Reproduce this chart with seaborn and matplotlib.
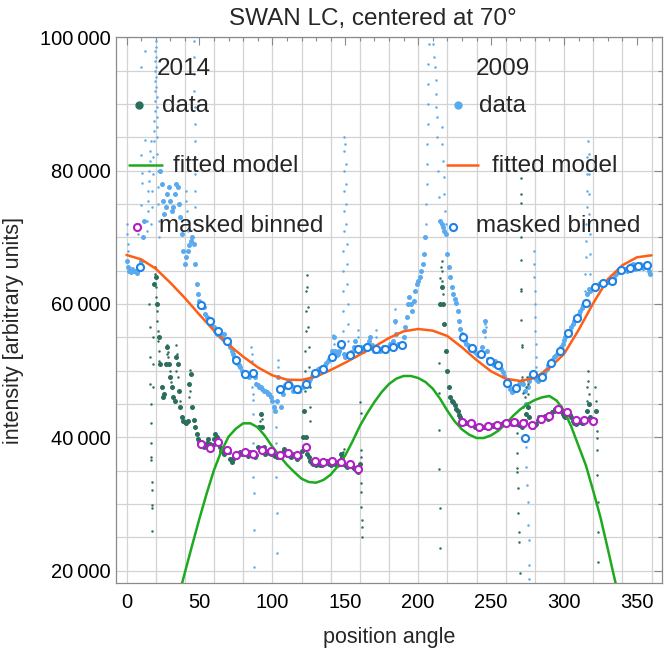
import numpy as np
import pandas as pd
import matplotlib
matplotlib.use("Agg")
import matplotlib.pyplot as plt
from matplotlib.ticker import MultipleLocator, FuncFormatter
from matplotlib.lines import Line2D
import seaborn as sns

nan = np.nan

# ---------------- 2009 data, one value per degree, in thousands (nan = only spike dots there)
deg09 = list(range(0, 360))
int09 = [
    66.5, 65.5, 65.0, 64.8, 65.2, 64.9, 65.0, 64.7, 65.1, 65.4,
    66.5, 70.0, 72.5, nan, nan, nan, nan, nan, nan, nan,
    nan, nan, nan, 80.0, 78.0, 75.5, 73.5, 74.5, 76.5, 77.5,
    75.5, 74.0, 74.5, 76.5, 78.0, 77.5, 75.0, 73.0, 70.5, 68.0,
    66.0, 67.0, 68.0, 68.8, 69.5, 70.0, 69.0, 66.0, 63.0, 61.5,
    60.5, 60.0, 59.5, 59.5, 58.5, 58.0, 57.5, 57.3, 57.0, 56.5,
    56.5, 56.0, 55.5, 55.8, 55.2, 55.0, 54.8, 55.5, 54.5, 54.2,
    54.0, 53.5, 53.0, 52.5, 52.0, 51.6, 51.2, 50.8, 50.5, 50.0,
    49.6, 49.4, 49.3, 49.2, 49.0, 49.5, 49.8, 49.5, 49.0, 48.0,
    47.8, 47.5, 47.5, 47.3, 47.0, 47.0, 46.8, 46.5, 46.5, 46.0,
    45.5, 44.5, 44.0, 45.5, 49.0, 47.0, 44.5, 46.5, 47.5, 47.8,
    47.8, 47.5, 48.2, 47.8, 47.0, 47.6, 47.2, 47.3, 47.0, 47.4,
    47.6, 47.5, 47.8, 48.0, 48.2, 48.5, 48.8, 49.2, 49.5, 49.6,
    50.0, 50.2, 50.3, 50.4, 50.5, 50.4, 50.8, 51.2, 51.5, 51.8,
    52.0, 53.0, 55.0, 53.0, 52.3, 52.5, 53.0, 54.0, 53.5, 52.5,
    52.0, 52.2, 52.5, 52.3, 52.8, 53.0, 53.5, 54.5, 53.5, 53.2,
    53.3, 53.5, 53.0, 53.5, 53.7, 53.6, 54.5, 55.0, 53.8, 53.2,
    53.0, 53.2, 53.4, 53.3, 53.0, 53.3, 53.5, 53.3, 53.0, 53.4,
    53.6, 54.0, 53.8, 54.5, 57.5, 55.5, 54.0, 53.8, 54.0, 54.0,
    55.0, 56.5, 58.0, 60.0, 61.0, 60.0, 59.0, 60.5, 62.0, 63.0,
    63.5, 64.0, 65.0, 66.0, 67.5, 70.0, nan, nan, nan, nan,
    nan, nan, nan, nan, nan, 72.5, 72.0, 71.5, 71.0, 70.5,
    67.5, 65.5, 64.0, 62.5, 61.5, 60.8, 60.2, 59.0, 57.5, 56.3,
    55.5, 55.0, 54.5, 54.0, 53.8, 53.5, 53.2, 53.4, 53.0, 52.8,
    52.5, 52.3, 52.4, 52.5, 53.5, 56.0, 57.5, 53.0, 51.8, 51.5,
    51.2, 51.0, 50.9, 51.5, 51.0, 50.8, 50.5, 50.2, 49.8, 49.2,
    48.5, 48.2, 47.8, 47.2, 46.8, 47.0, 47.2, 47.5, 47.2, 48.0,
    48.3, 48.5, 48.0, 47.0, 45.0, 47.5, 48.5, 49.0, 49.3, 49.5,
    49.0, 48.8, 48.5, 48.7, 49.0, 49.1, 49.5, 50.0, 50.3, 50.8,
    51.0, 51.2, 51.6, 52.0, 52.2, 52.5, 52.8, 53.0, 53.5, 54.0,
    54.6, 55.0, 55.4, 55.6, 56.0, 56.5, 57.0, 57.4, 57.8, 58.0,
    58.5, 59.0, 59.4, 59.8, 60.0, 60.3, 61.5, 62.3, 62.0, 62.2,
    62.4, 62.5, 62.7, 62.9, 63.0, 63.0, 63.1, 63.1, 63.2, 63.3,
    63.3, 63.4, 63.5, 63.4, 63.8, 64.3, 64.7, 65.0, 65.1, 65.1,
    65.2, 65.3, 65.3, 65.0, 65.2, 65.3, 65.8, 66.0, 65.5, 65.3,
    65.7, 65.7, 66.0, 65.6, 65.4, 65.8, 65.9, 65.8, 65.0, 64.5,
]

# sparse spike dots of the 2009 curve
spk09_ang = [0.2, 0.5, 0.8, 1.2, 7.5, 8.2, 8.8,
             9.6, 10.0, 10.0, 10.3, 10.6, 13.0, 13.0,
             13.8, 14.1, 14.4, 14.7, 15.0, 15.3, 15.6, 15.9, 16.2, 16.5,
             16.8, 17.2, 17.6, 18.0, 18.4, 18.8,
             19.0, 19.1, 19.2, 19.3, 19.4, 19.5, 19.6, 19.7, 19.8, 19.9,
             20.1, 20.2, 20.3, 20.4, 20.5, 20.6, 20.7, 20.8, 20.9, 21.0,
             21.2, 21.4, 21.6, 21.8, 22.0, 22.3,
             40.5, 41.0, 41.5, 42.0, 42.5,
             46.3, 46.4, 46.5, 46.6, 46.7, 46.8, 46.9, 47.0, 47.1, 47.2, 47.3, 47.4,
             85.6, 85.8, 86.0, 86.2, 86.4, 86.6, 86.8, 86.9, 87.0, 87.1, 87.2, 87.3,
             102.6, 102.7, 102.8, 102.9, 103.0, 103.8, 104.2,
             141.5, 142.5,
             148.3, 148.4, 148.5, 148.6, 148.7, 148.8, 148.9, 149.0, 149.1, 149.2, 149.3,
             150.0, 150.2, 150.4, 150.6, 150.8, 151.0, 151.2, 151.4, 151.6, 151.8, 152.0,
             158.8, 158.9, 171.1, 171.2, 183.8, 184.2,
             205.2, 205.5, 205.8, 206.0, 206.2, 206.4, 206.6, 206.8, 207.0, 207.2,
             210.5, 211.0, 211.5, 212.0, 212.2, 212.5, 212.7, 213.2, 213.8, 214.3,
             216.0, 216.5, 217.0, 217.5, 218.0, 218.5, 219.0,
             245.5, 245.8, 246.3,
             273.2, 273.5, 273.8, 274.2, 274.6, 275.0, 275.4, 275.7, 276.0, 276.3,
             279.2, 279.4, 279.6, 279.8, 280.0, 280.2, 280.4, 280.6, 280.8, 281.0,
             314.5, 314.7, 314.9, 315.1, 315.3, 315.5, 315.7, 315.9, 316.1, 316.3,
             316.8, 317.0, 317.2, 317.4, 317.6, 317.8, 318.0]
spk09_val = [72.0, 70.5, 69.0, 68.0, 71.5, 70.5, 72.0,
             74.8, 82.3, 95.5, 79.6, 78.1, 98.0, 84.6,
             71.0, 72.5, 74.0, 75.5, 77.0, 78.5, 80.0, 81.5, 83.0, 84.5,
             72.0, 74.5, 77.0, 79.5, 82.0, 84.5,
             86.0, 87.5, 89.0, 90.5, 92.0, 93.5, 95.0, 96.5, 98.0, 99.5,
             98.5, 97.0, 95.5, 94.0, 92.5, 91.0, 89.5, 88.0, 86.5, 85.0,
             82.5, 80.0, 77.5, 75.0, 72.5, 70.0,
             77.0, 75.5, 74.0, 72.5, 71.0,
             99.5, 97.0, 94.5, 92.0, 89.5, 87.0, 84.5, 82.0, 79.5, 77.0, 74.5, 72.0,
             53.5, 52.5, 51.5, 47.5, 46.5, 45.6, 43.5, 39.1, 34.1, 31.6, 26.1, 20.6,
             41.5, 39.1, 34.1, 28.6, 22.7, 51.6, 50.5,
             55.3, 54.0,
             56.0, 59.0, 62.0, 65.0, 68.0, 71.0, 74.0, 77.0, 80.0, 83.0, 85.0,
             84.0, 81.0, 78.0, 75.0, 72.0, 69.0, 66.0, 63.0, 60.0, 57.0, 54.5,
             56.1, 55.0, 56.1, 55.0, 59.3, 57.2,
             72.0, 75.0, 78.0, 81.0, 84.0, 87.0, 90.0, 93.0, 96.0, 99.0,
             99.0, 97.0, 95.6, 93.6, 91.5, 89.5, 88.0, 85.0, 80.0, 76.0,
             86.5, 84.0, 81.5, 79.0, 76.5, 74.0, 72.0,
             57.0, 55.0, 56.5,
             45.0, 42.0, 38.6, 35.6, 32.8, 30.3, 26.8, 24.6, 20.8, 18.8,
             68.0, 66.0, 64.0, 62.0, 60.0, 58.0, 56.0, 54.0, 52.0, 50.5,
             62.0, 64.5, 67.0, 69.5, 72.0, 74.5, 77.0, 79.5, 82.0, 84.5,
             82.5, 79.5, 76.5, 73.5, 70.5, 67.5, 64.5]

# ---------------- 2014 data, one value per degree (thousands)
deg14a = list(range(19, 161))
int14a = [
    63.0, 64.0, 60.0, 55.0, 51.0, 47.5, 46.0, 46.5, 51.0, 53.5,
    51.0, 49.0, 47.5, 46.0, 45.5, 52.0, 51.0, 47.0, 44.5, 43.0,
    42.5, 42.3, 42.2, 42.5, 48.0, 49.5, 44.5, 42.6, 41.5, 40.5,
    39.8, 39.3, 39.0, 38.8, 38.6, 38.7, 39.2, 39.8, 39.0, 38.3,
    38.8, 39.8, 40.5, 40.0, 39.3, 38.5, 38.0, 37.9, 37.5, 38.0,
    38.2, 37.8, 36.8, 36.3, 36.8, 37.2, 37.0, 37.3, 37.6, 37.8,
    37.5, 37.7, 37.8, 37.5, 37.2, 37.6, 37.8, 37.5, 37.3, 37.0,
    37.4, 38.5, 41.5, 43.5, 41.5, 38.5, 37.5, 37.8, 37.9, 37.6,
    37.5, 37.8, 37.4, 37.2, 37.0, 37.4, 37.5, 37.2, 37.8, 38.2,
    37.5, 37.4, 37.6, 37.2, 37.0, 37.4, 37.5, 37.0, 36.8, 37.0,
    37.2, 38.0, 40.0, 44.0, 40.0, 37.5, 37.0, 36.5, 36.2, 36.0,
    36.0, 35.8, 36.0, 36.2, 35.9, 35.8, 36.0, 36.2, 36.4, 36.5,
    36.0, 35.9, 36.0, 36.2, 36.0, 35.8, 36.0, 36.5, 37.5, 37.0,
    36.0, 35.8, 35.6, 35.8, 35.9, 35.7, 35.5, 35.4, 35.2, 35.0,
    34.8, 36.0,
]
deg14b = list(range(215, 323))
int14b = [
    60.0, 62.5, 60.0, 57.0, 53.0, 50.0, 47.5, 46.0, 45.5, 45.3,
    44.8, 44.3, 43.9, 43.4, 43.0, 42.6, 42.4, 42.3, 42.2, 42.2,
    42.1, 42.2, 42.0, 41.8, 41.6, 41.5, 41.4, 41.5, 41.7, 41.6,
    41.5, 41.6, 41.8, 41.7, 41.8, 41.9, 41.7, 41.8, 42.0, 41.9,
    41.8, 41.9, 42.0, 42.2, 42.3, 42.0, 42.1, 42.4, 42.2, 42.0,
    42.3, 42.5, 42.4, 42.0, 41.8, 42.0, 41.5, 41.8, 42.5, 43.5,
    44.5, 43.0, 42.0, 41.8, 41.6, 41.8, 42.0, 42.6, 43.0, 42.5,
    42.8, 43.0, 43.2, 43.0, 42.8, 43.2, 43.5, 43.8, 44.0, 44.2,
    44.4, 44.2, 44.5, 44.0, 43.5, 43.2, 43.0, 43.5, 43.8, 43.4,
    43.0, 42.5, 42.2, 42.0, 42.2, 42.4, 42.3, 42.1, 42.2, 42.5,
    42.8, 44.0, 45.0, 43.0, 42.5, 42.3, 42.6, 44.0,
]
spk14_ang = [15.5, 16.0, 16.2, 16.4, 16.5, 16.6, 16.8, 16.9, 17.0, 17.2, 17.3, 17.5, 17.6, 17.8,
             19.5, 19.8, 20.2, 20.5, 20.8, 21.2, 21.5, 21.8, 22.2, 22.5, 18.5, 18.2, 18.0,
             27.5, 27.8, 28.3, 28.7, 29.5, 30.5, 33.8, 34.2, 34.5, 35.5, 36.5,
             42.8, 43.2, 43.5, 43.8, 91.5, 92.3, 92.8,
             122.3, 122.5, 122.7, 122.9, 123.1, 123.3, 123.5, 124.0, 124.3, 124.6,
             124.9, 125.2, 125.5, 125.8, 126.0, 148.6, 148.9,
             160.3, 160.5, 160.6, 160.7, 160.9, 161.0, 161.1, 161.2, 161.3, 161.5,
             214.4, 214.4, 214.5, 214.6, 214.7, 214.8,
             215.2, 215.5, 216.0, 216.3, 216.6, 216.9,
             267.5, 267.7, 267.9, 268.0, 268.3, 268.6, 268.9, 269.1, 269.5,
             270.2, 270.3, 270.4, 270.4, 270.5, 270.5, 270.6, 270.8, 271.0, 271.1,
             271.3, 271.4, 271.6, 271.8,
             273.5, 274.0, 274.5, 275.0, 275.5,
             315.5, 316.0, 316.3, 316.6, 317.0,
             321.5, 321.7, 321.9, 322.1, 322.3, 322.5, 322.7, 322.9, 323.0, 323.1, 323.2]
spk14_val = [60.0, 56.5, 52.0, 48.0, 45.0, 42.1, 39.1, 37.1, 36.6, 33.3, 32.1, 29.9, 29.4, 25.9,
             65.6, 64.5, 62.5, 61.0, 59.0, 57.5, 56.0, 54.5, 53.0, 51.5, 55.0, 51.0, 47.5,
             52.5, 53.8, 52.8, 52.0, 50.0, 48.3, 50.0, 53.8, 52.5, 49.0, 45.5,
             46.0, 49.5, 50.1, 47.0, 42.5, 43.6, 42.8,
             47.0, 50.0, 53.0, 56.0, 59.0, 62.0, 64.4, 62.5, 59.5, 56.5,
             53.5, 50.5, 47.5, 44.5, 42.5, 37.8, 38.3,
             45.3, 43.6, 38.1, 37.1, 33.1, 31.8, 29.6, 27.6, 26.6, 25.1,
             51.1, 46.6, 41.1, 35.2, 29.4, 23.4,
             63.9, 65.5, 66.5, 65.0, 63.5, 61.5,
             40.6, 37.6, 35.4, 34.8, 32.4, 28.6, 25.8, 24.3, 19.6,
             70.1, 66.6, 78.9, 76.5, 75.1, 62.3, 62.0, 57.6, 53.8, 53.5,
             49.1, 48.6, 46.6, 44.6,
             46.0, 47.5, 49.0, 48.0, 46.5,
             45.5, 47.5, 50.0, 48.5, 46.5,
             47.5, 45.5, 44.0, 42.5, 41.0, 39.9, 38.1, 34.3, 30.3, 25.8, 21.3]

# ---------------- fitted models (thousands)
fit09_ang = [0, 10, 20, 30, 40, 50, 60, 70, 80, 90, 100, 110, 120, 130, 140, 150, 160, 170, 180,
             190, 200, 210, 220, 230, 240, 250, 260, 270, 280, 290, 300, 310, 320, 330, 340, 350, 360]
fit09_val = [67.35, 66.7, 65.3, 63.2, 60.9, 58.4, 56.0, 53.9, 52.1, 50.5, 49.3, 48.65, 48.6, 49.1,
             50.1, 51.2, 52.4, 53.6, 54.9, 55.9, 56.25, 56.0, 55.2, 53.5, 51.6, 49.9, 48.8, 48.45,
             48.9, 50.4, 52.5, 56.1, 60.1, 63.7, 65.8, 67.0, 67.3]
fit14_ang = [35, 40, 45, 50, 55, 60, 65, 70, 75, 80, 85, 90, 95, 100, 105, 110, 115, 120, 125,
             130, 135, 140, 145, 150, 155, 160, 165, 170, 175, 180, 185, 190, 195, 200, 205, 210,
             215, 220, 225, 230, 235, 240, 245, 250, 255, 260, 265, 270, 275, 280, 285, 290, 295,
             300, 305, 310, 315, 320, 325, 330, 335, 340]
fit14_val = [15.5, 19.7, 23.8, 27.8, 31.6, 35.1, 37.9, 40.1, 41.3, 42.1, 42.1, 41.5, 40.2, 38.6,
             37.2, 35.9, 34.8, 33.8, 33.3, 33.2, 33.6, 34.4, 35.7, 37.3, 39.4, 41.7, 43.6, 45.3,
             46.8, 48.0, 48.8, 49.2, 49.2, 48.9, 48.3, 47.3, 45.8, 44.0, 42.4, 41.2, 40.4, 39.9,
             39.9, 40.3, 41.0, 42.0, 43.2, 44.2, 45.0, 45.6, 46.0, 46.2, 45.5, 44.0, 41.6, 38.7,
             35.8, 32.0, 28.0, 23.3, 18.5, 13.7]

# ---------------- masked binned values (thousands)
bin09_ang = [9, 51, 57, 63, 69, 75, 81, 87, 105, 111, 117, 123, 129, 135, 141, 147, 153, 159,
             165, 171, 177, 183, 189, 231, 237, 243, 249, 255, 261, 267, 273, 279, 285, 291,
             297, 303, 309, 315, 321, 327, 333, 339, 345, 351, 357]
bin09_val = [65.5, 59.9, 57.4, 55.9, 54.5, 51.6, 49.55, 49.65, 47.3, 47.8, 47.3, 47.95, 49.65,
             50.3, 52.05, 54.0, 52.3, 53.3, 53.6, 53.2, 53.3, 53.55, 53.8, 55.0, 53.4, 52.55,
             51.45, 50.8, 48.2, 47.45, 39.95, 49.55, 49.05, 51.15, 52.9, 55.6, 57.9, 60.1,
             62.5, 63.1, 63.4, 65.1, 65.35, 65.7, 65.9]
bin14_ang = [51, 57, 63, 69, 75, 81, 87, 93, 99, 105, 111, 117, 123, 129, 135, 141, 147, 153, 159,
             230, 236, 242, 248, 254, 260, 266, 272, 278, 284, 290, 296, 302, 308, 314, 320]
bin14_val = [39.0, 38.45, 39.25, 38.1, 37.35, 37.75, 37.5, 38.1, 38.0, 37.35, 37.7, 37.35, 38.6,
             36.45, 36.25, 36.45, 36.35, 36.0, 35.25,
             42.35, 42.2, 41.6, 41.75, 41.85, 42.1, 42.35, 42.2, 41.85, 42.7, 43.2, 44.2, 43.85,
             42.6, 42.6, 42.45]

C09 = "#5aaaf0"
C14 = "#2b6e5d"
CFIT09 = "#ff5e14"
CFIT14 = "#1eaa1e"
CBIN09 = "#1e82e6"
CBIN14 = "#b41ec8"
GRAY = "#8a8a8a"

sns.set_theme(style="white")
plt.rcParams["font.family"] = ["Liberation Sans", "DejaVu Sans"]

W, H = 664, 651
fig = plt.figure(figsize=(W / 100, H / 100), dpi=100)
ax = fig.add_axes([116 / W, 1 - 583.3 / H, (662 - 116) / W, (583.3 - 37) / H])


def frame(rows_ang, rows_val):
    d = pd.DataFrame({"angle": rows_ang, "intensity": np.array(rows_val, dtype=float) * 1000})
    return d.dropna()


# dense parts of the light curves (heavier dots) and the sparse spike dots
base09 = frame(deg09, int09)
base14 = frame(deg14a + deg14b, int14a + int14b)
spk09 = frame(spk09_ang, spk09_val)
spk14 = frame(spk14_ang, spk14_val)

for d, c, size in [(spk09, C09, 3.2), (base09, C09, 13), (spk14, C14, 3.2), (base14, C14, 13)]:
    sns.scatterplot(data=d, x="angle", y="intensity", ax=ax, color=c, s=size,
                    linewidth=0, legend=False, zorder=2)

f09 = frame(fit09_ang, fit09_val)
f14 = frame(fit14_ang, fit14_val)
sns.lineplot(data=f09, x="angle", y="intensity", ax=ax, color=CFIT09, lw=1.8,
             sort=False, estimator=None, legend=False, zorder=3)
sns.lineplot(data=f14, x="angle", y="intensity", ax=ax, color=CFIT14, lw=1.8,
             sort=False, estimator=None, legend=False, zorder=3)

b09 = frame(bin09_ang, bin09_val)
b14 = frame(bin14_ang, bin14_val)
sns.scatterplot(data=b09, x="angle", y="intensity", ax=ax, color="white", edgecolor=CBIN09,
                s=26, linewidth=1.5, legend=False, zorder=4)
sns.scatterplot(data=b14, x="angle", y="intensity", ax=ax, color="white", edgecolor=CBIN14,
                s=26, linewidth=1.5, legend=False, zorder=4)

# axes, ticks, grid
ax.set_xlim(-7.2, 367.2)
ax.set_ylim(18110, 100040)
ax.set_xlabel("")
ax.set_ylabel("")
ax.xaxis.set_major_locator(MultipleLocator(50))
ax.xaxis.set_minor_locator(MultipleLocator(10))
ax.yaxis.set_major_locator(MultipleLocator(20000))
ax.yaxis.set_minor_locator(MultipleLocator(5000))
ax.yaxis.set_major_formatter(FuncFormatter(lambda v, p: f"{v:,.0f}".replace(",", "\u2009")))
ax.tick_params(which="both", direction="in", top=True, right=True, color=GRAY, width=0.8)
ax.tick_params(which="major", length=5.5, labelsize=14.5, labelcolor="black")
ax.tick_params(which="minor", length=3)
ax.tick_params(axis="x", which="major", pad=7)
ax.tick_params(axis="y", which="major", pad=4)
for s in ax.spines.values():
    s.set_color(GRAY)
    s.set_linewidth(0.9)
for g in range(0, 361, 20):
    ax.axvline(g, color="#d3d3d3", lw=0.9, zorder=0)
for g in range(20000, 100001, 5000):
    ax.axhline(g, color="#d3d3d3", lw=0.9, zorder=0)


def px(x, y):
    return x / W, 1 - y / H


FS = 17.5
fig.text(*px(373, 25), "SWAN LC, centered at 70\u00b0", fontsize=FS, ha="center", va="baseline")
fig.text(*px(389, 637), "position angle", fontsize=15.5, ha="center", va="center")
fig.text(*px(14, 330), "intensity [arbitrary units]", fontsize=15.5, ha="center", va="center",
         rotation=90)

# legend, two groups drawn by hand
fig.text(*px(157, 75), "2014", fontsize=FS, va="baseline")
fig.text(*px(162, 111.5), "data", fontsize=FS, va="baseline")
fig.text(*px(173, 171.5), "fitted model", fontsize=FS, va="baseline")
fig.text(*px(159, 232), "masked binned", fontsize=FS, va="baseline")
fig.text(*px(476, 75), "2009", fontsize=FS, va="baseline")
fig.text(*px(479, 111.5), "data", fontsize=FS, va="baseline")
fig.text(*px(491.5, 171.5), "fitted model", fontsize=FS, va="baseline")
fig.text(*px(476.5, 232), "masked binned", fontsize=FS, va="baseline")

for (x, y, c) in [(139.3, 105, C14), (457.7, 105, C09)]:
    fig.add_artist(Line2D([x / W], [1 - y / H], marker="o", ms=6, color=c, mew=0,
                          transform=fig.transFigure))
for (x0, x1, c) in [(129.3, 161.7, CFIT14), (446.7, 478.3, CFIT09)]:
    fig.add_artist(Line2D([x0 / W, x1 / W], [1 - 165 / H] * 2, color=c, lw=1.8,
                          transform=fig.transFigure))
for (x, y, c) in [(137, 226.7, CBIN14), (453.3, 226.7, CBIN09)]:
    fig.add_artist(Line2D([x / W], [1 - y / H], marker="o", ms=5.1, mfc="white", mec=c,
                          mew=1.5, transform=fig.transFigure))

fig.savefig("out.png", dpi=100)
